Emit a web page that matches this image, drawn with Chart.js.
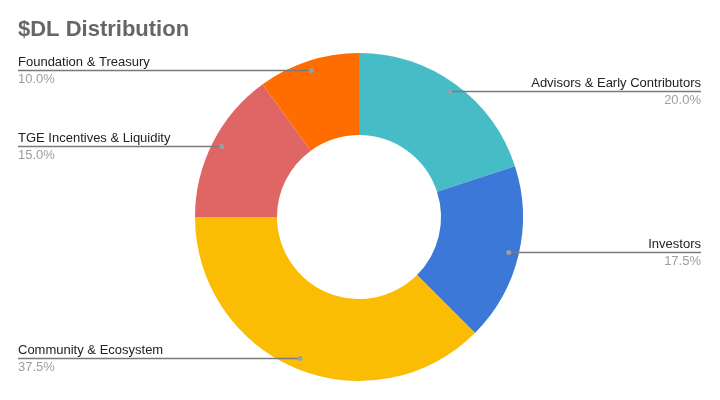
<!DOCTYPE html>
<html>
<head>
<meta charset="utf-8">
<script src="https://cdn.jsdelivr.net/npm/chart.js@4"></script>
<style>
  html, body { margin: 0; padding: 0; background: #fff; }
  #wrap { width: 720px; height: 400px; position: relative; }
</style>
</head>
<body>
<div id="wrap"><canvas id="pieChart" width="720" height="400"></canvas></div>
<script>
const title = "$DL Distribution"
const labels = ["Advisors & Early Contributors", "Investors", "Community & Ecosystem", "TGE Incentives & Liquidity", "Foundation & Treasury"]
const shares = [20.0, 17.5, 37.5, 15.0, 10.0]
const colors = ["#46BDC6", "#3C78D8", "#FBBC04", "#E06666", "#FF6D01"]

// leader lines + labels, drawn beside each slice
const sideLabels = {
    id: "sideLabels",
    afterDraw(chart) {
        const c = chart.ctx
        c.save()
        c.font = "bold 22px 'Liberation Sans', Arial, sans-serif"
        c.fillStyle = "#666666"
        c.textAlign = "left"
        c.textBaseline = "alphabetic"
        c.fillText(title, 18, 36)

        const arcs = chart.getDatasetMeta(0).data
        arcs.forEach((arc, i) => {
            const mid = (arc.startAngle + arc.endAngle) / 2
            const r = arc.outerRadius - 10
            const dx = arc.x + Math.cos(mid) * r
            const dy = arc.y + Math.sin(mid) * r
            const left = dx < arc.x
            const ex = left ? 18 : 701
            const ly = Math.round(dy) - 1

            c.strokeStyle = "#7a7a7a"
            c.lineWidth = 1.3
            c.beginPath()
            c.moveTo(ex, ly + 0.5)
            c.lineTo(dx, ly + 0.5)
            c.stroke()

            c.fillStyle = "#9e9e9e"
            c.beginPath()
            c.arc(dx, ly + 0.5, 2.5, 0, Math.PI * 2)
            c.fill()

            c.font = "13px 'Liberation Sans', Arial, sans-serif"
            c.textAlign = left ? "left" : "right"
            c.fillStyle = "#222222"
            c.fillText(labels[i], ex, ly - 4)
            c.fillStyle = "#9e9e9e"
            c.fillText(shares[i].toFixed(1) + "%", ex, ly + 13)
        })
        c.restore()
    }
}

const ctx = document.getElementById("pieChart")

new Chart(ctx, {
    type: "doughnut",
    data: {
        labels: labels,
        datasets: [{
            data: shares,
            backgroundColor: colors,
            borderWidth: 0
        }]
    },
    options: {
        responsive: false,
        animation: false,
        cutout: "50%",
        layout: {
            padding: { top: 53, bottom: 19, left: 195, right: 197 }
        },
        plugins: {
            legend: { display: false },
            tooltip: { enabled: false },
            title: { display: false }
        }
    },
    plugins: [sideLabels]
})
</script>
</body>
</html>
